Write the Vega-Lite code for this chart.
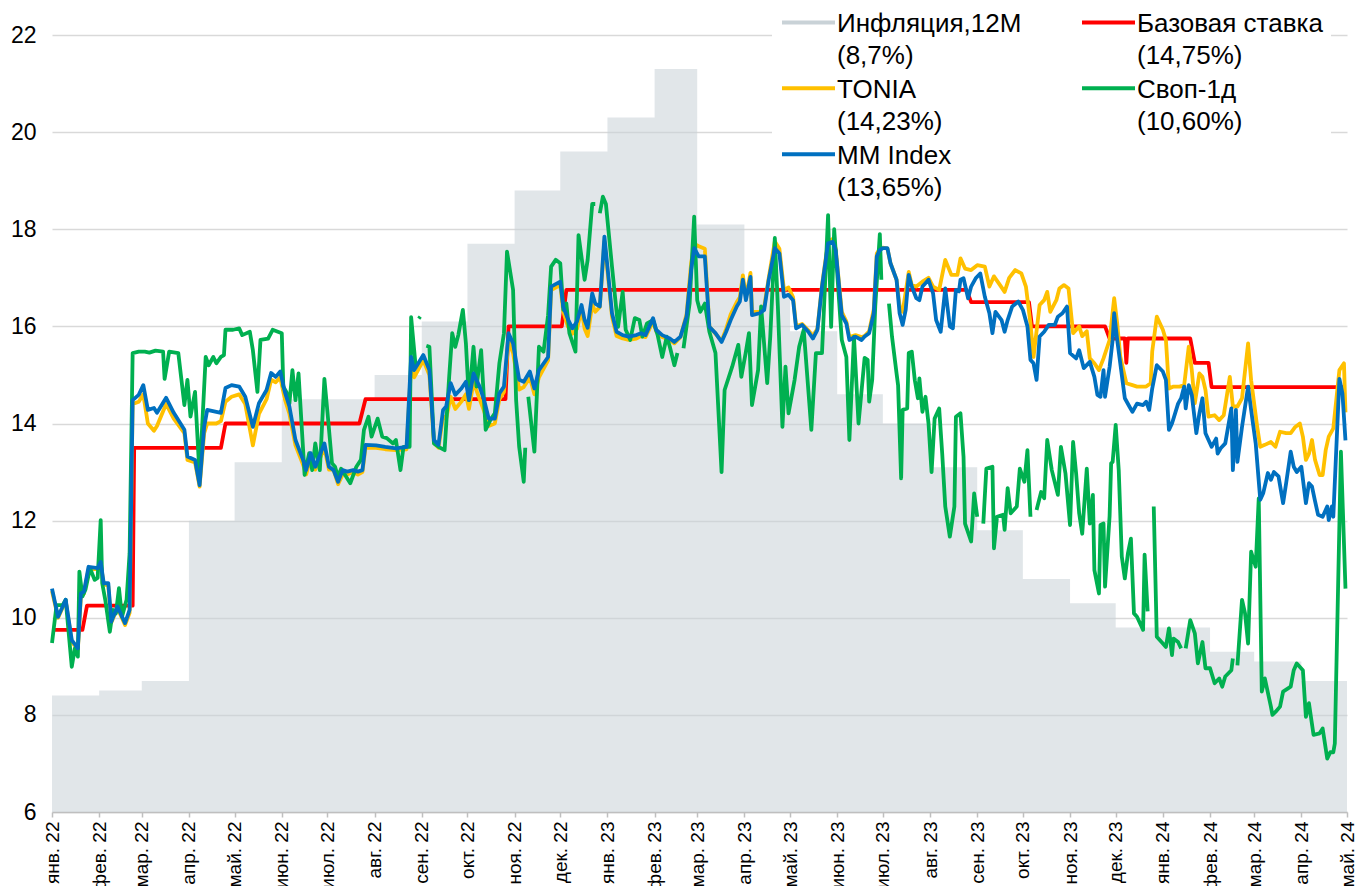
{
"$schema": "https://vega.github.io/schema/vega-lite/v6.json",
"width": 1295, "height": 777,
"autosize": {"type": "none"},
"padding": {"left": 52, "top": 35, "right": 10, "bottom": 74},
"background": "white",
"config": {"font": "Liberation Sans", "view": {"stroke": null}, "style": {"guide-label": {"lineHeight": 32}}},
"datasets": {
"infl": [
{"d":"2022-01-01","v":8.4},{"d":"2022-02-01","v":8.5},{"d":"2022-03-01","v":8.7},{"d":"2022-04-01","v":12.0},{"d":"2022-05-01","v":13.2},{"d":"2022-06-01","v":14.5},{"d":"2022-07-01","v":14.5},{"d":"2022-08-01","v":15.0},{"d":"2022-09-01","v":16.1},{"d":"2022-10-01","v":17.7},{"d":"2022-11-01","v":18.8},{"d":"2022-12-01","v":19.6},{"d":"2023-01-01","v":20.3},{"d":"2023-02-01","v":21.3},{"d":"2023-03-01","v":18.1},{"d":"2023-04-01","v":16.8},{"d":"2023-05-01","v":15.9},{"d":"2023-06-01","v":14.6},{"d":"2023-07-01","v":14.0},{"d":"2023-08-01","v":13.1},{"d":"2023-09-01","v":11.8},{"d":"2023-10-01","v":10.8},{"d":"2023-11-01","v":10.3},{"d":"2023-12-01","v":9.8},{"d":"2024-01-01","v":9.8},{"d":"2024-02-01","v":9.3},{"d":"2024-03-01","v":9.1},{"d":"2024-04-01","v":8.7},{"d":"2024-05-01","v":8.7}
],
"base": [
{"d":"2022-01-01","v":9.75},{"d":"2022-01-21","v":9.75},{"d":"2022-01-24","v":10.25},{"d":"2022-02-23","v":10.25},{"d":"2022-02-24","v":13.5},{"d":"2022-04-22","v":13.5},{"d":"2022-04-25","v":14.0},{"d":"2022-07-22","v":14.0},{"d":"2022-07-26","v":14.5},{"d":"2022-10-26","v":14.5},{"d":"2022-10-28","v":16.0},{"d":"2022-12-02","v":16.0},{"d":"2022-12-05","v":16.75},{"d":"2023-08-25","v":16.75},{"d":"2023-08-28","v":16.5},{"d":"2023-10-05","v":16.5},{"d":"2023-10-07","v":16.0},{"d":"2023-11-24","v":16.0},{"d":"2023-11-27","v":15.75},{"d":"2023-12-07","v":15.75},{"d":"2023-12-08","v":15.25},{"d":"2023-12-09","v":15.75},{"d":"2024-01-19","v":15.75},{"d":"2024-01-22","v":15.25},{"d":"2024-01-31","v":15.25},{"d":"2024-02-02","v":14.75},{"d":"2024-04-30","v":14.75}
],
"tonia": [
{"d":"2022-01-01","v":10.55},{"d":"2022-01-05","v":10.0},{"d":"2022-01-10","v":10.35},{"d":"2022-01-14","v":9.5},{"d":"2022-01-18","v":9.35},{"d":"2022-01-20","v":10.45},{"d":"2022-01-22","v":10.5},{"d":"2022-01-25","v":11.0},{"d":"2022-01-31","v":11.0},{"d":"2022-02-02","v":11.1},{"d":"2022-02-04","v":10.7},{"d":"2022-02-07","v":10.65},{"d":"2022-02-09","v":9.9},{"d":"2022-02-13","v":10.2},{"d":"2022-02-18","v":9.85},{"d":"2022-02-21","v":10.1},{"d":"2022-02-23","v":14.4},{"d":"2022-02-27","v":14.45},{"d":"2022-03-02","v":14.6},{"d":"2022-03-05","v":14.0},{"d":"2022-03-09","v":13.85},{"d":"2022-03-11","v":13.95},{"d":"2022-03-17","v":14.4},{"d":"2022-03-22","v":14.1},{"d":"2022-03-29","v":13.8},{"d":"2022-03-31","v":13.25},{"d":"2022-04-05","v":13.2},{"d":"2022-04-08","v":12.7},{"d":"2022-04-11","v":13.8},{"d":"2022-04-13","v":14.0},{"d":"2022-04-19","v":14.0},{"d":"2022-04-22","v":14.05},{"d":"2022-04-25","v":14.45},{"d":"2022-04-29","v":14.55},{"d":"2022-05-04","v":14.6},{"d":"2022-05-08","v":14.4},{"d":"2022-05-13","v":13.55},{"d":"2022-05-17","v":14.2},{"d":"2022-05-22","v":14.5},{"d":"2022-05-25","v":14.9},{"d":"2022-05-28","v":14.85},{"d":"2022-05-31","v":14.95},{"d":"2022-06-03","v":14.5},{"d":"2022-06-06","v":14.2},{"d":"2022-06-10","v":13.55},{"d":"2022-06-15","v":13.15},{"d":"2022-06-17","v":12.95},{"d":"2022-06-20","v":13.3},{"d":"2022-06-23","v":13.05},{"d":"2022-06-29","v":13.5},{"d":"2022-07-02","v":13.05},{"d":"2022-07-05","v":13.05},{"d":"2022-07-08","v":12.75},{"d":"2022-07-11","v":12.95},{"d":"2022-07-14","v":12.95},{"d":"2022-07-18","v":13.0},{"d":"2022-07-21","v":12.95},{"d":"2022-07-24","v":13.0},{"d":"2022-07-26","v":13.5},{"d":"2022-08-02","v":13.5},{"d":"2022-08-08","v":13.47},{"d":"2022-08-15","v":13.45},{"d":"2022-08-22","v":13.47},{"d":"2022-08-25","v":15.2},{"d":"2022-08-27","v":14.95},{"d":"2022-09-02","v":15.3},{"d":"2022-09-06","v":15.0},{"d":"2022-09-09","v":13.6},{"d":"2022-09-12","v":13.5},{"d":"2022-09-15","v":14.15},{"d":"2022-09-17","v":14.1},{"d":"2022-09-20","v":14.55},{"d":"2022-09-23","v":14.3},{"d":"2022-09-27","v":14.45},{"d":"2022-09-30","v":14.6},{"d":"2022-10-02","v":14.3},{"d":"2022-10-05","v":14.85},{"d":"2022-10-09","v":14.5},{"d":"2022-10-12","v":14.25},{"d":"2022-10-15","v":13.95},{"d":"2022-10-19","v":14.0},{"d":"2022-10-22","v":14.5},{"d":"2022-10-25","v":14.65},{"d":"2022-10-28","v":15.7},{"d":"2022-10-31","v":15.45},{"d":"2022-11-04","v":14.7},{"d":"2022-11-07","v":14.75},{"d":"2022-11-11","v":14.95},{"d":"2022-11-14","v":14.6},{"d":"2022-11-17","v":14.95},{"d":"2022-11-23","v":15.3},{"d":"2022-11-25","v":16.75},{"d":"2022-12-01","v":16.85},{"d":"2022-12-03","v":16.3},{"d":"2022-12-06","v":16.0},{"d":"2022-12-09","v":15.85},{"d":"2022-12-12","v":15.95},{"d":"2022-12-15","v":16.35},{"d":"2022-12-17","v":15.95},{"d":"2022-12-19","v":15.8},{"d":"2022-12-22","v":16.45},{"d":"2022-12-24","v":16.3},{"d":"2022-12-27","v":16.4},{"d":"2022-12-30","v":17.75},{"d":"2023-01-01","v":17.15},{"d":"2023-01-04","v":16.2},{"d":"2023-01-07","v":15.8},{"d":"2023-01-11","v":15.75},{"d":"2023-01-15","v":15.72},{"d":"2023-01-20","v":15.75},{"d":"2023-01-23","v":15.8},{"d":"2023-01-26","v":15.78},{"d":"2023-01-31","v":16.1},{"d":"2023-02-02","v":15.9},{"d":"2023-02-06","v":15.78},{"d":"2023-02-11","v":15.72},{"d":"2023-02-14","v":15.65},{"d":"2023-02-18","v":15.78},{"d":"2023-02-22","v":16.25},{"d":"2023-02-25","v":17.3},{"d":"2023-02-27","v":17.7},{"d":"2023-03-02","v":17.65},{"d":"2023-03-06","v":17.6},{"d":"2023-03-09","v":16.0},{"d":"2023-03-13","v":15.85},{"d":"2023-03-17","v":15.7},{"d":"2023-03-20","v":15.95},{"d":"2023-03-23","v":16.25},{"d":"2023-03-27","v":16.5},{"d":"2023-03-29","v":16.6},{"d":"2023-03-31","v":17.05},{"d":"2023-04-02","v":16.6},{"d":"2023-04-05","v":17.1},{"d":"2023-04-06","v":16.3},{"d":"2023-04-11","v":16.3},{"d":"2023-04-14","v":16.4},{"d":"2023-04-17","v":17.0},{"d":"2023-04-21","v":17.75},{"d":"2023-04-24","v":17.6},{"d":"2023-04-27","v":16.75},{"d":"2023-04-30","v":16.8},{"d":"2023-05-03","v":16.6},{"d":"2023-05-05","v":16.0},{"d":"2023-05-09","v":16.05},{"d":"2023-05-13","v":15.92},{"d":"2023-05-16","v":15.8},{"d":"2023-05-19","v":15.95},{"d":"2023-05-22","v":16.85},{"d":"2023-05-26","v":17.75},{"d":"2023-05-29","v":17.8},{"d":"2023-05-31","v":17.6},{"d":"2023-06-04","v":16.3},{"d":"2023-06-07","v":16.1},{"d":"2023-06-09","v":15.78},{"d":"2023-06-13","v":15.82},{"d":"2023-06-17","v":15.78},{"d":"2023-06-19","v":15.8},{"d":"2023-06-22","v":15.9},{"d":"2023-06-25","v":16.35},{"d":"2023-06-27","v":17.5},{"d":"2023-06-29","v":17.6},{"d":"2023-07-01","v":17.62},{"d":"2023-07-04","v":17.6},{"d":"2023-07-06","v":17.3},{"d":"2023-07-10","v":16.96},{"d":"2023-07-12","v":16.42},{"d":"2023-07-14","v":16.3},{"d":"2023-07-18","v":17.12},{"d":"2023-07-20","v":16.85},{"d":"2023-07-23","v":16.82},{"d":"2023-07-27","v":16.92},{"d":"2023-07-31","v":17.0},{"d":"2023-08-03","v":16.82},{"d":"2023-08-07","v":16.75},{"d":"2023-08-11","v":17.37},{"d":"2023-08-15","v":17.06},{"d":"2023-08-19","v":17.06},{"d":"2023-08-21","v":17.4},{"d":"2023-08-24","v":17.19},{"d":"2023-08-28","v":17.16},{"d":"2023-09-01","v":17.26},{"d":"2023-09-06","v":17.23},{"d":"2023-09-09","v":16.82},{"d":"2023-09-12","v":17.03},{"d":"2023-09-16","v":16.85},{"d":"2023-09-19","v":16.71},{"d":"2023-09-22","v":17.0},{"d":"2023-09-26","v":17.16},{"d":"2023-09-30","v":17.09},{"d":"2023-10-03","v":16.82},{"d":"2023-10-06","v":16.06},{"d":"2023-10-08","v":15.37},{"d":"2023-10-12","v":16.44},{"d":"2023-10-15","v":16.54},{"d":"2023-10-17","v":16.71},{"d":"2023-10-19","v":16.3},{"d":"2023-10-23","v":16.54},{"d":"2023-10-25","v":16.78},{"d":"2023-10-28","v":16.85},{"d":"2023-10-31","v":16.78},{"d":"2023-11-03","v":15.86},{"d":"2023-11-07","v":16.0},{"d":"2023-11-09","v":15.8},{"d":"2023-11-12","v":15.9},{"d":"2023-11-14","v":15.34},{"d":"2023-11-17","v":15.24},{"d":"2023-11-20","v":15.1},{"d":"2023-11-23","v":15.34},{"d":"2023-11-27","v":15.72},{"d":"2023-11-30","v":16.58},{"d":"2023-12-02","v":16.06},{"d":"2023-12-04","v":15.38},{"d":"2023-12-08","v":14.83},{"d":"2023-12-12","v":14.79},{"d":"2023-12-15","v":14.76},{"d":"2023-12-21","v":14.76},{"d":"2023-12-24","v":14.83},{"d":"2023-12-25","v":15.48},{"d":"2023-12-28","v":16.2},{"d":"2024-01-01","v":15.93},{"d":"2024-01-03","v":15.72},{"d":"2024-01-05","v":14.72},{"d":"2024-01-08","v":14.76},{"d":"2024-01-12","v":14.76},{"d":"2024-01-15","v":14.79},{"d":"2024-01-18","v":15.58},{"d":"2024-01-20","v":15.1},{"d":"2024-01-22","v":14.42},{"d":"2024-01-25","v":15.03},{"d":"2024-01-27","v":14.96},{"d":"2024-01-29","v":14.69},{"d":"2024-01-31","v":14.14},{"d":"2024-02-04","v":14.17},{"d":"2024-02-07","v":14.07},{"d":"2024-02-10","v":14.17},{"d":"2024-02-14","v":14.96},{"d":"2024-02-16","v":14.35},{"d":"2024-02-19","v":14.35},{"d":"2024-02-22","v":14.52},{"d":"2024-02-26","v":15.65},{"d":"2024-02-28","v":14.89},{"d":"2024-03-03","v":13.93},{"d":"2024-03-05","v":13.52},{"d":"2024-03-08","v":13.56},{"d":"2024-03-12","v":13.62},{"d":"2024-03-15","v":13.52},{"d":"2024-03-18","v":13.83},{"d":"2024-03-22","v":13.8},{"d":"2024-03-25","v":13.8},{"d":"2024-03-28","v":13.93},{"d":"2024-03-31","v":14.0},{"d":"2024-04-02","v":13.73},{"d":"2024-04-04","v":13.25},{"d":"2024-04-06","v":13.38},{"d":"2024-04-08","v":13.66},{"d":"2024-04-10","v":13.25},{"d":"2024-04-13","v":12.94},{"d":"2024-04-15","v":12.94},{"d":"2024-04-17","v":13.45},{"d":"2024-04-19","v":13.73},{"d":"2024-04-22","v":13.9},{"d":"2024-04-26","v":15.1},{"d":"2024-04-29","v":15.24},{"d":"2024-04-30","v":14.23}
],
"swap": [
{"d":"2022-01-01","v":9.48},{"d":"2022-01-04","v":10.26},{"d":"2022-01-08","v":10.26},{"d":"2022-01-10","v":10.37},{"d":"2022-01-14","v":8.99},{"d":"2022-01-16","v":9.37},{"d":"2022-01-18","v":9.2},{"d":"2022-01-19","v":10.95},{"d":"2022-01-21","v":10.44},{"d":"2022-01-23","v":10.58},{"d":"2022-01-26","v":11.02},{"d":"2022-01-29","v":10.78},{"d":"2022-01-31","v":10.82},{"d":"2022-02-02","v":12.01},{"d":"2022-02-03","v":10.71},{"d":"2022-02-05","v":10.37},{"d":"2022-02-08","v":9.71},{"d":"2022-02-10","v":10.16},{"d":"2022-02-12","v":10.09},{"d":"2022-02-14","v":10.61},{"d":"2022-02-16","v":10.02},{"d":"2022-02-19","v":10.37},{"d":"2022-02-21","v":11.33},{"d":"2022-02-23","v":15.45},{"d":"2022-02-27","v":15.48},{"d":"2022-03-03","v":15.48},{"d":"2022-03-06","v":15.46},{"d":"2022-03-10","v":15.5},{"d":"2022-03-15","v":15.48},{"d":"2022-03-16","v":14.92},{"d":"2022-03-19","v":15.48},{"d":"2022-03-25","v":15.45},{"d":"2022-03-29","v":14.38},{"d":"2022-03-31","v":14.9},{"d":"2022-04-02","v":14.14},{"d":"2022-04-05","v":14.65},{"d":"2022-04-08","v":12.9},{"d":"2022-04-12","v":15.37},{"d":"2022-04-14","v":15.2},{"d":"2022-04-17","v":15.37},{"d":"2022-04-19","v":15.24},{"d":"2022-04-22","v":15.37},{"d":"2022-04-24","v":15.41},{"d":"2022-04-25","v":15.93},{"d":"2022-04-30","v":15.93},{"d":"2022-05-04","v":15.96},{"d":"2022-05-06","v":15.82},{"d":"2022-05-11","v":15.89},{"d":"2022-05-13","v":15.51},{"d":"2022-05-16","v":14.65},{"d":"2022-05-18","v":15.72},{"d":"2022-05-23","v":15.75},{"d":"2022-05-26","v":15.93},{"d":"2022-06-01","v":15.86},{"d":"2022-06-02","v":14.76},{"d":"2022-06-04","v":14.65},{"d":"2022-06-06","v":14.41},{"d":"2022-06-08","v":15.1},{"d":"2022-06-10","v":14.48},{"d":"2022-06-12","v":15.03},{"d":"2022-06-16","v":12.94},{"d":"2022-06-19","v":13.39},{"d":"2022-06-21","v":13.04},{"d":"2022-06-23","v":13.59},{"d":"2022-06-26","v":13.04},{"d":"2022-06-29","v":14.92},{"d":"2022-07-01","v":14.24},{"d":"2022-07-04","v":13.18},{"d":"2022-07-06","v":13.11},{"d":"2022-07-08","v":12.9},{"d":"2022-07-10","v":13.07},{"d":"2022-07-12","v":12.97},{"d":"2022-07-16","v":12.77},{"d":"2022-07-20","v":13.11},{"d":"2022-07-23","v":13.25},{"d":"2022-07-25","v":13.87},{"d":"2022-07-28","v":14.14},{"d":"2022-07-30","v":13.73},{"d":"2022-08-03","v":14.1},{"d":"2022-08-06","v":13.73},{"d":"2022-08-09","v":13.7},{"d":"2022-08-13","v":13.59},{"d":"2022-08-15","v":13.66},{"d":"2022-08-18","v":13.04},{"d":"2022-08-20","v":13.52},{"d":"2022-08-24","v":13.52},{"d":"2022-08-25","v":16.19},{"d":"2022-08-28","v":15.17},{"d":"2022-08-29","v":null},{"d":"2022-08-30","v":16.16},{"d":"2022-08-31","v":16.2},{"d":"2022-09-01","v":null},{"d":"2022-09-04","v":15.6},{"d":"2022-09-06","v":15.58},{"d":"2022-09-09","v":13.59},{"d":"2022-09-12","v":13.52},{"d":"2022-09-16","v":13.45},{"d":"2022-09-19","v":14.96},{"d":"2022-09-21","v":15.86},{"d":"2022-09-23","v":15.58},{"d":"2022-09-25","v":15.82},{"d":"2022-09-28","v":16.34},{"d":"2022-09-30","v":15.65},{"d":"2022-10-02","v":14.48},{"d":"2022-10-05","v":15.58},{"d":"2022-10-07","v":14.76},{"d":"2022-10-10","v":15.51},{"d":"2022-10-13","v":13.87},{"d":"2022-10-16","v":14.07},{"d":"2022-10-19","v":14.21},{"d":"2022-10-22","v":15.24},{"d":"2022-10-25","v":15.86},{"d":"2022-10-27","v":17.54},{"d":"2022-10-31","v":16.75},{"d":"2022-11-02","v":14.48},{"d":"2022-11-04","v":13.52},{"d":"2022-11-07","v":12.8},{"d":"2022-11-08","v":13.5},{"d":"2022-11-09","v":null},{"d":"2022-11-10","v":14.55},{"d":"2022-11-14","v":13.42},{"d":"2022-11-17","v":15.58},{"d":"2022-11-20","v":15.48},{"d":"2022-11-23","v":16.23},{"d":"2022-11-25","v":17.23},{"d":"2022-11-28","v":17.37},{"d":"2022-12-01","v":17.3},{"d":"2022-12-03","v":16.34},{"d":"2022-12-05","v":16.47},{"d":"2022-12-07","v":15.86},{"d":"2022-12-11","v":15.48},{"d":"2022-12-13","v":17.88},{"d":"2022-12-17","v":16.96},{"d":"2022-12-19","v":17.37},{"d":"2022-12-22","v":18.52},{"d":"2022-12-24","v":18.52},{"d":"2022-12-25","v":null},{"d":"2022-12-27","v":18.33},{"d":"2022-12-29","v":18.67},{"d":"2022-12-31","v":18.52},{"d":"2023-01-04","v":17.23},{"d":"2023-01-08","v":15.99},{"d":"2023-01-11","v":16.71},{"d":"2023-01-13","v":15.93},{"d":"2023-01-16","v":15.72},{"d":"2023-01-19","v":16.17},{"d":"2023-01-22","v":16.13},{"d":"2023-01-24","v":15.79},{"d":"2023-01-27","v":16.06},{"d":"2023-01-31","v":16.13},{"d":"2023-02-03","v":15.82},{"d":"2023-02-06","v":15.37},{"d":"2023-02-09","v":15.79},{"d":"2023-02-11","v":15.58},{"d":"2023-02-14","v":15.2},{"d":"2023-02-16","v":15.45},{"d":"2023-02-18","v":null},{"d":"2023-02-20","v":15.55},{"d":"2023-02-24","v":16.47},{"d":"2023-02-27","v":18.26},{"d":"2023-03-01","v":16.54},{"d":"2023-03-03","v":16.3},{"d":"2023-03-06","v":16.47},{"d":"2023-03-09","v":15.89},{"d":"2023-03-13","v":15.45},{"d":"2023-03-17","v":13.0},{"d":"2023-03-19","v":14.69},{"d":"2023-03-24","v":15.17},{"d":"2023-03-28","v":15.62},{"d":"2023-03-30","v":14.96},{"d":"2023-04-02","v":15.48},{"d":"2023-04-04","v":15.86},{"d":"2023-04-06","v":14.38},{"d":"2023-04-10","v":15.1},{"d":"2023-04-12","v":16.41},{"d":"2023-04-16","v":14.83},{"d":"2023-04-18","v":15.79},{"d":"2023-04-21","v":17.82},{"d":"2023-04-23","v":16.41},{"d":"2023-04-26","v":13.93},{"d":"2023-04-28","v":15.17},{"d":"2023-04-30","v":14.21},{"d":"2023-05-04","v":14.9},{"d":"2023-05-07","v":15.58},{"d":"2023-05-10","v":15.93},{"d":"2023-05-15","v":13.87},{"d":"2023-05-18","v":15.45},{"d":"2023-05-22","v":15.45},{"d":"2023-05-26","v":18.29},{"d":"2023-05-28","v":15.99},{"d":"2023-05-30","v":18.0},{"d":"2023-06-04","v":15.72},{"d":"2023-06-07","v":15.37},{"d":"2023-06-09","v":13.66},{"d":"2023-06-12","v":15.79},{"d":"2023-06-15","v":14.0},{"d":"2023-06-19","v":15.35},{"d":"2023-06-21","v":15.31},{"d":"2023-06-22","v":14.45},{"d":"2023-06-24","v":14.9},{"d":"2023-06-26","v":16.41},{"d":"2023-06-29","v":17.9},{"d":"2023-06-30","v":16.96},{"d":"2023-07-02","v":null},{"d":"2023-07-05","v":16.47},{"d":"2023-07-07","v":15.79},{"d":"2023-07-10","v":15.03},{"d":"2023-07-11","v":14.79},{"d":"2023-07-13","v":12.87},{"d":"2023-07-14","v":14.28},{"d":"2023-07-17","v":14.31},{"d":"2023-07-18","v":15.45},{"d":"2023-07-20","v":15.48},{"d":"2023-07-22","v":14.89},{"d":"2023-07-24","v":14.52},{"d":"2023-07-25","v":14.93},{"d":"2023-07-27","v":14.24},{"d":"2023-07-29","v":14.55},{"d":"2023-07-31","v":14.0},{"d":"2023-08-02","v":13.0},{"d":"2023-08-04","v":14.1},{"d":"2023-08-07","v":14.31},{"d":"2023-08-09","v":13.38},{"d":"2023-08-11","v":12.29},{"d":"2023-08-14","v":11.67},{"d":"2023-08-17","v":12.29},{"d":"2023-08-18","v":14.14},{"d":"2023-08-21","v":14.21},{"d":"2023-08-23","v":13.32},{"d":"2023-08-24","v":11.94},{"d":"2023-08-28","v":11.57},{"d":"2023-08-30","v":12.56},{"d":"2023-09-01","v":12.08},{"d":"2023-09-03","v":null},{"d":"2023-09-05","v":11.94},{"d":"2023-09-07","v":13.07},{"d":"2023-09-11","v":13.11},{"d":"2023-09-12","v":11.43},{"d":"2023-09-14","v":12.08},{"d":"2023-09-18","v":12.12},{"d":"2023-09-19","v":11.81},{"d":"2023-09-21","v":12.67},{"d":"2023-09-23","v":12.15},{"d":"2023-09-27","v":12.29},{"d":"2023-09-29","v":13.07},{"d":"2023-10-02","v":12.8},{"d":"2023-10-04","v":13.45},{"d":"2023-10-06","v":12.08},{"d":"2023-10-08","v":null},{"d":"2023-10-10","v":12.22},{"d":"2023-10-13","v":12.59},{"d":"2023-10-15","v":12.46},{"d":"2023-10-17","v":13.66},{"d":"2023-10-20","v":13.04},{"d":"2023-10-24","v":12.53},{"d":"2023-10-26","v":13.52},{"d":"2023-10-29","v":12.97},{"d":"2023-11-01","v":11.91},{"d":"2023-11-03","v":13.62},{"d":"2023-11-05","v":12.97},{"d":"2023-11-07","v":12.15},{"d":"2023-11-09","v":11.73},{"d":"2023-11-12","v":13.07},{"d":"2023-11-14","v":11.94},{"d":"2023-11-16","v":12.53},{"d":"2023-11-17","v":10.98},{"d":"2023-11-20","v":10.5},{"d":"2023-11-21","v":11.91},{"d":"2023-11-23","v":11.94},{"d":"2023-11-24","v":10.64},{"d":"2023-11-27","v":12.1},{"d":"2023-11-28","v":13.18},{"d":"2023-11-29","v":13.21},{"d":"2023-12-01","v":13.97},{"d":"2023-12-03","v":13.04},{"d":"2023-12-05","v":11.26},{"d":"2023-12-07","v":10.81},{"d":"2023-12-09","v":11.32},{"d":"2023-12-11","v":11.63},{"d":"2023-12-13","v":10.09},{"d":"2023-12-15","v":10.02},{"d":"2023-12-19","v":9.75},{"d":"2023-12-20","v":11.3},{"d":"2023-12-22","v":10.13},{"d":"2023-12-24","v":null},{"d":"2023-12-26","v":12.29},{"d":"2023-12-28","v":9.61},{"d":"2024-01-01","v":9.47},{"d":"2024-01-03","v":9.4},{"d":"2024-01-05","v":9.78},{"d":"2024-01-07","v":9.23},{"d":"2024-01-08","v":9.57},{"d":"2024-01-11","v":9.5},{"d":"2024-01-13","v":9.37},{"d":"2024-01-14","v":null},{"d":"2024-01-16","v":9.37},{"d":"2024-01-19","v":9.95},{"d":"2024-01-22","v":9.68},{"d":"2024-01-24","v":9.06},{"d":"2024-01-27","v":9.5},{"d":"2024-01-29","v":8.96},{"d":"2024-02-01","v":8.96},{"d":"2024-02-04","v":8.65},{"d":"2024-02-07","v":8.75},{"d":"2024-02-09","v":8.58},{"d":"2024-02-11","v":8.79},{"d":"2024-02-15","v":8.92},{"d":"2024-02-16","v":9.16},{"d":"2024-02-17","v":null},{"d":"2024-02-19","v":9.02},{"d":"2024-02-22","v":10.37},{"d":"2024-02-24","v":10.09},{"d":"2024-02-26","v":9.47},{"d":"2024-02-28","v":11.36},{"d":"2024-03-02","v":11.05},{"d":"2024-03-04","v":12.46},{"d":"2024-03-06","v":8.48},{"d":"2024-03-08","v":8.75},{"d":"2024-03-12","v":8.17},{"d":"2024-03-13","v":8.0},{"d":"2024-03-15","v":8.06},{"d":"2024-03-18","v":8.17},{"d":"2024-03-20","v":8.48},{"d":"2024-03-25","v":8.58},{"d":"2024-03-27","v":8.92},{"d":"2024-03-29","v":9.06},{"d":"2024-04-02","v":8.92},{"d":"2024-04-04","v":7.96},{"d":"2024-04-06","v":8.24},{"d":"2024-04-09","v":7.59},{"d":"2024-04-13","v":7.62},{"d":"2024-04-15","v":7.72},{"d":"2024-04-18","v":7.1},{"d":"2024-04-20","v":7.23},{"d":"2024-04-22","v":7.23},{"d":"2024-04-23","v":7.41},{"d":"2024-04-27","v":13.42},{"d":"2024-04-30","v":10.6}
],
"mm": [
{"d":"2022-01-01","v":10.6},{"d":"2022-01-05","v":10.02},{"d":"2022-01-10","v":10.37},{"d":"2022-01-14","v":9.54},{"d":"2022-01-18","v":9.37},{"d":"2022-01-20","v":10.5},{"d":"2022-01-22","v":10.54},{"d":"2022-01-25","v":11.05},{"d":"2022-01-31","v":11.02},{"d":"2022-02-02","v":11.15},{"d":"2022-02-04","v":10.71},{"d":"2022-02-07","v":10.71},{"d":"2022-02-09","v":9.92},{"d":"2022-02-13","v":10.23},{"d":"2022-02-18","v":9.89},{"d":"2022-02-21","v":10.16},{"d":"2022-02-23","v":14.48},{"d":"2022-02-27","v":14.59},{"d":"2022-03-02","v":14.79},{"d":"2022-03-05","v":14.28},{"d":"2022-03-09","v":14.32},{"d":"2022-03-11","v":14.22},{"d":"2022-03-17","v":14.53},{"d":"2022-03-22","v":14.22},{"d":"2022-03-29","v":13.87},{"d":"2022-03-31","v":13.32},{"d":"2022-04-05","v":13.25},{"d":"2022-04-08","v":12.73},{"d":"2022-04-11","v":13.93},{"d":"2022-04-13","v":14.28},{"d":"2022-04-19","v":14.24},{"d":"2022-04-22","v":14.22},{"d":"2022-04-25","v":14.73},{"d":"2022-04-29","v":14.79},{"d":"2022-05-04","v":14.76},{"d":"2022-05-08","v":14.55},{"d":"2022-05-13","v":13.93},{"d":"2022-05-17","v":14.42},{"d":"2022-05-22","v":14.69},{"d":"2022-05-25","v":15.04},{"d":"2022-05-28","v":14.96},{"d":"2022-05-31","v":15.07},{"d":"2022-06-03","v":14.65},{"d":"2022-06-06","v":14.35},{"d":"2022-06-10","v":13.66},{"d":"2022-06-15","v":13.25},{"d":"2022-06-17","v":13.04},{"d":"2022-06-20","v":13.39},{"d":"2022-06-23","v":13.11},{"d":"2022-06-29","v":13.59},{"d":"2022-07-02","v":13.11},{"d":"2022-07-05","v":13.04},{"d":"2022-07-08","v":12.8},{"d":"2022-07-11","v":13.04},{"d":"2022-07-14","v":13.01},{"d":"2022-07-18","v":13.04},{"d":"2022-07-21","v":13.01},{"d":"2022-07-24","v":13.04},{"d":"2022-07-26","v":13.56},{"d":"2022-08-02","v":13.55},{"d":"2022-08-08","v":13.52},{"d":"2022-08-15","v":13.49},{"d":"2022-08-22","v":13.52},{"d":"2022-08-25","v":15.37},{"d":"2022-08-27","v":15.1},{"d":"2022-09-02","v":15.41},{"d":"2022-09-06","v":15.1},{"d":"2022-09-09","v":13.66},{"d":"2022-09-12","v":13.56},{"d":"2022-09-15","v":14.28},{"d":"2022-09-17","v":14.35},{"d":"2022-09-20","v":14.83},{"d":"2022-09-23","v":14.59},{"d":"2022-09-27","v":14.72},{"d":"2022-09-30","v":14.86},{"d":"2022-10-02","v":14.48},{"d":"2022-10-05","v":15.03},{"d":"2022-10-09","v":14.76},{"d":"2022-10-12","v":14.48},{"d":"2022-10-15","v":14.1},{"d":"2022-10-19","v":14.1},{"d":"2022-10-22","v":14.62},{"d":"2022-10-25","v":14.76},{"d":"2022-10-28","v":15.86},{"d":"2022-10-31","v":15.65},{"d":"2022-11-04","v":14.9},{"d":"2022-11-07","v":14.86},{"d":"2022-11-11","v":15.07},{"d":"2022-11-14","v":14.72},{"d":"2022-11-17","v":15.1},{"d":"2022-11-23","v":15.37},{"d":"2022-11-25","v":16.82},{"d":"2022-12-01","v":16.92},{"d":"2022-12-03","v":16.4},{"d":"2022-12-06","v":16.15},{"d":"2022-12-09","v":15.96},{"d":"2022-12-12","v":16.1},{"d":"2022-12-15","v":16.44},{"d":"2022-12-17","v":16.13},{"d":"2022-12-19","v":15.97},{"d":"2022-12-22","v":16.68},{"d":"2022-12-24","v":16.47},{"d":"2022-12-27","v":16.41},{"d":"2022-12-30","v":17.85},{"d":"2023-01-01","v":17.23},{"d":"2023-01-04","v":16.27},{"d":"2023-01-07","v":15.89},{"d":"2023-01-11","v":15.82},{"d":"2023-01-15","v":15.79},{"d":"2023-01-20","v":15.82},{"d":"2023-01-23","v":15.86},{"d":"2023-01-26","v":15.82},{"d":"2023-01-31","v":16.17},{"d":"2023-02-02","v":15.93},{"d":"2023-02-06","v":15.82},{"d":"2023-02-11","v":15.75},{"d":"2023-02-14","v":15.68},{"d":"2023-02-18","v":15.79},{"d":"2023-02-22","v":16.2},{"d":"2023-02-25","v":17.16},{"d":"2023-02-27","v":17.61},{"d":"2023-03-02","v":17.44},{"d":"2023-03-06","v":17.44},{"d":"2023-03-09","v":15.99},{"d":"2023-03-13","v":15.86},{"d":"2023-03-17","v":15.68},{"d":"2023-03-20","v":15.89},{"d":"2023-03-23","v":16.13},{"d":"2023-03-27","v":16.41},{"d":"2023-03-29","v":16.51},{"d":"2023-03-31","v":16.96},{"d":"2023-04-02","v":16.54},{"d":"2023-04-05","v":17.02},{"d":"2023-04-06","v":16.23},{"d":"2023-04-11","v":16.27},{"d":"2023-04-14","v":16.34},{"d":"2023-04-17","v":16.96},{"d":"2023-04-21","v":17.61},{"d":"2023-04-24","v":17.5},{"d":"2023-04-27","v":16.61},{"d":"2023-04-30","v":16.65},{"d":"2023-05-03","v":16.54},{"d":"2023-05-05","v":15.96},{"d":"2023-05-09","v":16.03},{"d":"2023-05-13","v":15.89},{"d":"2023-05-16","v":15.75},{"d":"2023-05-19","v":15.93},{"d":"2023-05-22","v":16.82},{"d":"2023-05-26","v":17.71},{"d":"2023-05-29","v":17.74},{"d":"2023-05-31","v":17.57},{"d":"2023-06-04","v":16.23},{"d":"2023-06-07","v":16.06},{"d":"2023-06-09","v":15.72},{"d":"2023-06-13","v":15.79},{"d":"2023-06-17","v":15.72},{"d":"2023-06-19","v":15.79},{"d":"2023-06-22","v":15.86},{"d":"2023-06-25","v":16.27},{"d":"2023-06-27","v":17.44},{"d":"2023-06-29","v":17.57},{"d":"2023-07-01","v":17.61},{"d":"2023-07-04","v":17.61},{"d":"2023-07-06","v":17.3},{"d":"2023-07-10","v":16.96},{"d":"2023-07-12","v":16.27},{"d":"2023-07-14","v":16.03},{"d":"2023-07-16","v":16.34},{"d":"2023-07-18","v":17.06},{"d":"2023-07-20","v":16.82},{"d":"2023-07-23","v":16.58},{"d":"2023-07-25","v":16.54},{"d":"2023-07-27","v":16.82},{"d":"2023-07-29","v":16.89},{"d":"2023-07-31","v":16.96},{"d":"2023-08-03","v":16.68},{"d":"2023-08-05","v":16.13},{"d":"2023-08-08","v":15.89},{"d":"2023-08-11","v":16.78},{"d":"2023-08-14","v":16.0},{"d":"2023-08-16","v":15.96},{"d":"2023-08-18","v":16.75},{"d":"2023-08-20","v":16.72},{"d":"2023-08-21","v":16.96},{"d":"2023-08-23","v":16.99},{"d":"2023-08-26","v":16.58},{"d":"2023-08-28","v":16.82},{"d":"2023-08-31","v":16.99},{"d":"2023-09-03","v":17.09},{"d":"2023-09-06","v":16.61},{"d":"2023-09-09","v":16.27},{"d":"2023-09-11","v":15.86},{"d":"2023-09-13","v":16.3},{"d":"2023-09-17","v":16.13},{"d":"2023-09-19","v":15.89},{"d":"2023-09-21","v":16.13},{"d":"2023-09-24","v":16.41},{"d":"2023-09-28","v":16.51},{"d":"2023-10-01","v":16.34},{"d":"2023-10-04","v":16.0},{"d":"2023-10-06","v":15.31},{"d":"2023-10-08","v":15.24},{"d":"2023-10-10","v":14.9},{"d":"2023-10-12","v":15.79},{"d":"2023-10-15","v":15.89},{"d":"2023-10-18","v":16.03},{"d":"2023-10-22","v":16.03},{"d":"2023-10-24","v":16.2},{"d":"2023-10-27","v":16.27},{"d":"2023-10-30","v":16.41},{"d":"2023-11-01","v":15.45},{"d":"2023-11-05","v":15.34},{"d":"2023-11-07","v":15.51},{"d":"2023-11-10","v":15.14},{"d":"2023-11-14","v":15.27},{"d":"2023-11-17","v":14.96},{"d":"2023-11-19","v":14.59},{"d":"2023-11-21","v":14.55},{"d":"2023-11-23","v":15.1},{"d":"2023-11-24","v":14.55},{"d":"2023-11-27","v":15.17},{"d":"2023-11-29","v":15.72},{"d":"2023-11-30","v":16.27},{"d":"2023-12-02","v":15.72},{"d":"2023-12-04","v":15.24},{"d":"2023-12-07","v":14.52},{"d":"2023-12-10","v":14.35},{"d":"2023-12-12","v":14.24},{"d":"2023-12-15","v":14.41},{"d":"2023-12-19","v":14.38},{"d":"2023-12-21","v":14.45},{"d":"2023-12-23","v":14.28},{"d":"2023-12-25","v":14.72},{"d":"2023-12-28","v":15.2},{"d":"2024-01-01","v":15.07},{"d":"2024-01-03","v":14.9},{"d":"2024-01-05","v":13.87},{"d":"2024-01-07","v":14.0},{"d":"2024-01-11","v":14.41},{"d":"2024-01-13","v":14.52},{"d":"2024-01-15","v":14.76},{"d":"2024-01-16","v":14.31},{"d":"2024-01-18","v":14.79},{"d":"2024-01-20","v":14.59},{"d":"2024-01-23","v":13.8},{"d":"2024-01-25","v":14.21},{"d":"2024-01-27","v":14.52},{"d":"2024-01-29","v":13.8},{"d":"2024-01-31","v":13.66},{"d":"2024-02-02","v":13.52},{"d":"2024-02-05","v":13.69},{"d":"2024-02-06","v":13.38},{"d":"2024-02-08","v":13.49},{"d":"2024-02-11","v":13.59},{"d":"2024-02-15","v":14.31},{"d":"2024-02-16","v":13.04},{"d":"2024-02-18","v":14.28},{"d":"2024-02-19","v":13.21},{"d":"2024-02-22","v":13.93},{"d":"2024-02-26","v":14.76},{"d":"2024-02-28","v":14.28},{"d":"2024-03-02","v":13.59},{"d":"2024-03-05","v":12.43},{"d":"2024-03-07","v":12.57},{"d":"2024-03-10","v":12.98},{"d":"2024-03-12","v":12.84},{"d":"2024-03-14","v":13.0},{"d":"2024-03-17","v":12.91},{"d":"2024-03-20","v":12.36},{"d":"2024-03-22","v":12.77},{"d":"2024-03-25","v":13.42},{"d":"2024-03-27","v":13.11},{"d":"2024-03-29","v":13.0},{"d":"2024-04-01","v":13.11},{"d":"2024-04-04","v":12.36},{"d":"2024-04-06","v":12.77},{"d":"2024-04-08","v":12.7},{"d":"2024-04-10","v":12.4},{"d":"2024-04-12","v":12.12},{"d":"2024-04-15","v":12.08},{"d":"2024-04-18","v":12.29},{"d":"2024-04-19","v":12.01},{"d":"2024-04-21","v":12.29},{"d":"2024-04-22","v":12.08},{"d":"2024-04-26","v":14.92},{"d":"2024-04-28","v":14.62},{"d":"2024-04-30","v":13.65}
]
},
"encoding": {
  "x": {"field": "d", "type": "temporal",
    "scale": {"type": "utc", "domain": [{"year": 2022, "month": 1, "date": 1, "utc": true}, {"year": 2024, "month": 5, "date": 1, "utc": true}]},
    "axis": {"title": null, "grid": false, "domain": true, "domainColor": "#bfbfbf", "domainWidth": 1.5, "ticks": true, "tickColor": "#bfbfbf", "tickSize": 5, "tickWidth": 1.5,
      "tickCount": {"interval": "month", "step": 1}, "labelAngle": -90, "labelFontSize": 19, "labelPadding": 4, "labelOverlap": false, "labelFlush": false, "labelBound": false, "labelColor": "#000000",
      "labelExpr": "['янв.','фев.','мар.','апр.','май.','июн.','июл.','авг.','сен.','окт.','ноя.','дек.'][utcmonth(datum.value)] + ' ' + utcFormat(datum.value, '%y')"}},
  "y": {"field": "v", "type": "quantitative",
    "scale": {"domain": [6, 22], "nice": false, "zero": false},
    "axis": {"title": null, "values": [6, 8, 10, 12, 14, 16, 18, 20, 22], "grid": true, "gridColor": "#d9d9d9", "gridWidth": 1.5, "domain": false, "ticks": false, "labelFontSize": 23, "labelPadding": 16, "labelColor": "#000000"}}
},
"layer": [
  {"data": {"name": "infl"},
   "mark": {"type": "area", "interpolate": "step-after", "opacity": 0.55},
   "encoding": {
     "y2": {"datum": 6},
     "color": {"datum": "Инфляция,12M", "type": "nominal",
       "scale": {"domain": ["Инфляция,12M", "Базовая ставка", "TONIA", "Своп-1д", "MM Index"], "range": ["#c9d2d7", "#ff0000", "#ffc000", "#00b050", "#0070c0"]},
       "legend": {"orient": "none", "legendX": 720, "legendY": -40, "direction": "horizontal", "columns": 2, "title": null, "fillColor": "white", "padding": 8,
         "symbolType": "M-1,-0.35H1", "symbolSize": 2809, "symbolStrokeWidth": 4, "symbolOpacity": 1, "labelFontSize": 26, "labelLimit": 500, "labelOffset": 0, "labelColor": "#000000",
         "columnPadding": 52, "rowPadding": 0, "labelBaseline": "alphabetic",
         "labelExpr": "datum.value == 'Инфляция,12M' ? ['Инфляция,12M','(8,7%)'] : datum.value == 'Базовая ставка' ? ['Базовая ставка','(14,75%)'] : datum.value == 'TONIA' ? ['TONIA','(14,23%)'] : datum.value == 'Своп-1д' ? ['Своп-1д','(10,60%)'] : ['MM Index','(13,65%)']"}}
   }},
  {"data": {"name": "base"}, "mark": {"type": "line", "strokeWidth": 3.8, "strokeJoin": "round"},
   "encoding": {"color": {"datum": "Базовая ставка", "type": "nominal"}}},
  {"data": {"name": "tonia"}, "mark": {"type": "line", "strokeWidth": 3.8, "strokeJoin": "round"},
   "encoding": {"color": {"datum": "TONIA", "type": "nominal"}}},
  {"data": {"name": "swap"}, "mark": {"type": "line", "strokeWidth": 3.8, "strokeJoin": "round", "invalid": "break-paths-filter-domains"},
   "encoding": {"color": {"datum": "Своп-1д", "type": "nominal"}}},
  {"data": {"name": "mm"}, "mark": {"type": "line", "strokeWidth": 3.8, "strokeJoin": "round"},
   "encoding": {"color": {"datum": "MM Index", "type": "nominal"}}}
]
}
